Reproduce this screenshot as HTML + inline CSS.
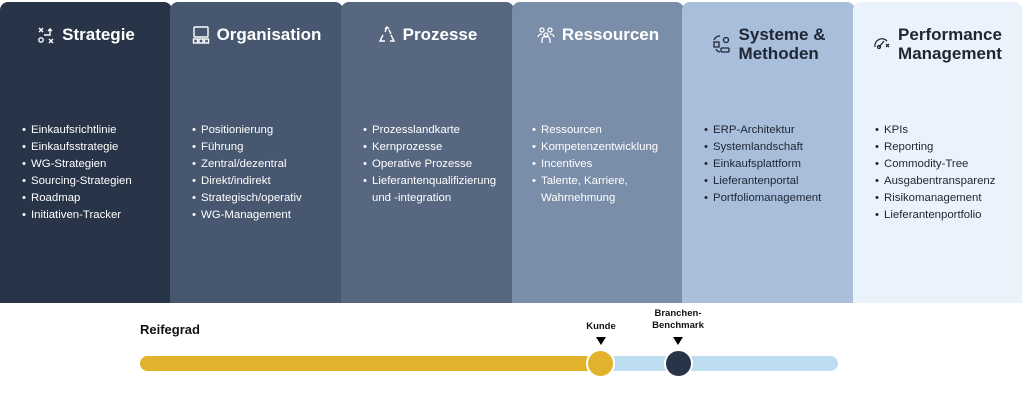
<!DOCTYPE html>
<html><head><meta charset="utf-8"><style>
*{margin:0;padding:0;box-sizing:border-box}
body{width:1024px;height:413px;background:#fff;position:relative;overflow:hidden;font-family:"Liberation Sans",sans-serif}
.p{position:absolute;top:2px;height:301px;border-radius:8px 8px 0 0;}
.t{position:absolute;top:23px;left:0;right:0;display:flex;justify-content:center;align-items:flex-start;font-size:17px;font-weight:bold;line-height:19px;}
.t svg{margin-right:7px;margin-top:1px}
ul{position:absolute;top:120px;list-style:none;font-size:11.4px;line-height:17px}
li{padding-left:9px;position:relative}
li:before{content:"•";position:absolute;left:0}
.w{color:#fff}.d{color:#1e2633}
.lab{position:absolute;font-size:9.5px;font-weight:bold;color:#111;text-align:center;line-height:12px}
.tri{position:absolute;width:0;height:0;border-left:5px solid transparent;border-right:5px solid transparent;border-top:8px solid #000}
</style></head><body>
<div class="p w" style="left:0;width:172px;background:#283447">
 <div class="t"><svg width="18" height="18" viewBox="0 0 18 18" fill="none" stroke="#fff" stroke-width="1.4"><path d="M2 2l4 4M6 2l-4 4M12 17l4-4M16 17l-4-4"/><circle cx="4" cy="14" r="2.2"/><path d="M7 9h6V3M11 5l2-2 2 2"/></svg>Strategie</div>
 <ul style="left:22px"><li>Einkaufsrichtlinie</li><li>Einkaufsstrategie</li><li>WG-Strategien</li><li>Sourcing-Strategien</li><li>Roadmap</li><li>Initiativen-Tracker</li></ul></div>
<div class="p w" style="left:170px;width:173px;background:#475770">
 <div class="t"><svg width="18" height="18" viewBox="0 0 18 18" fill="none" stroke="#fff" stroke-width="1.4"><rect x="2" y="1" width="14" height="10" rx="1"/><rect x="1.5" y="13" width="4" height="4"/><rect x="7" y="13" width="4" height="4"/><rect x="12.5" y="13" width="4" height="4"/></svg>Organisation</div>
 <ul style="left:22px"><li>Positionierung</li><li>Führung</li><li>Zentral/dezentral</li><li>Direkt/indirekt</li><li>Strategisch/operativ</li><li>WG-Management</li></ul></div>
<div class="p w" style="left:341px;width:173px;background:#56677f">
 <div class="t"><svg width="18" height="18" viewBox="0 0 18 18" fill="none" stroke="#fff" stroke-width="1.4"><path d="M7 3l2-2 2 2M5 9L2 15h5M13 9l3 6h-4M9 1l-2 5M11 4l2 4"/></svg>Prozesse</div>
 <ul style="left:22px"><li>Prozesslandkarte</li><li>Kernprozesse</li><li>Operative Prozesse</li><li>Lieferantenqualifizierung<br>und -integration</li></ul></div>
<div class="p w" style="left:512px;width:172px;background:#7a8ea9">
 <div class="t"><svg width="18" height="18" viewBox="0 0 18 18" fill="none" stroke="#fff" stroke-width="1.3"><circle cx="5" cy="4" r="2"/><circle cx="13" cy="4" r="2"/><circle cx="9" cy="9" r="2"/><path d="M5 17v-3a4 4 0 018 0v3M1 11a4 4 0 014-3M17 11a4 4 0 00-4-3"/></svg>Ressourcen</div>
 <ul style="left:20px"><li>Ressourcen</li><li>Kompetenzentwicklung</li><li>Incentives</li><li>Talente, Karriere,<br>Wahrnehmung</li></ul></div>
<div class="p d" style="left:682px;width:173px;background:#a8bedb">
 <div class="t"><svg width="20" height="20" viewBox="0 0 20 20" fill="none" stroke="#1e2633" stroke-width="1.3" style="margin-top:9px"><rect x="2" y="8" width="5" height="5"/><rect x="9" y="14" width="8" height="4" rx="1"/><circle cx="14" cy="6" r="2.5"/><path d="M2 6a6 6 0 016-4M4 15a5 5 0 004 3"/></svg><span>Systeme &amp;<br>Methoden</span></div>
 <ul style="left:22px"><li>ERP-Architektur</li><li>Systemlandschaft</li><li>Einkaufsplattform</li><li>Lieferantenportal</li><li>Portfoliomanagement</li></ul></div>
<div class="p d" style="left:853px;width:169px;background:#eaf2fc">
 <div class="t"><svg width="18" height="18" viewBox="0 0 18 18" fill="none" stroke="#1e2633" stroke-width="1.3" style="margin-top:9px"><path d="M2 13a7 7 0 0112-6M6 13l5-6"/><circle cx="6" cy="13" r="1.5"/><path d="M13 10l3 3M16 10l-3 3"/></svg><span>Performance<br>Management</span></div>
 <ul style="left:22px"><li>KPIs</li><li>Reporting</li><li>Commodity-Tree</li><li>Ausgabentransparenz</li><li>Risikomanagement</li><li>Lieferantenportfolio</li></ul></div>

<div style="position:absolute;left:140px;top:322px;font-size:13px;font-weight:bold;color:#111">Reifegrad</div>
<div style="position:absolute;left:140px;top:356px;width:698px;height:15px;border-radius:8px;background:#bcdef0"></div>
<div style="position:absolute;left:140px;top:356px;width:462px;height:15px;border-radius:8px 0 0 8px;background:#e2b22c"></div>
<div style="position:absolute;left:586px;top:349px;width:29px;height:29px;border-radius:50%;background:#e2b22c;border:2px solid #fff"></div>
<div style="position:absolute;left:664px;top:349px;width:29px;height:29px;border-radius:50%;background:#283447;border:2px solid #fff"></div>
<div class="lab" style="left:580px;top:321px;width:42px">Kunde</div>
<div class="lab" style="left:648px;top:308px;width:60px">Branchen-<br>Benchmark</div>
<div class="tri" style="left:596px;top:337px"></div>
<div class="tri" style="left:673px;top:337px"></div>
</body></html>
